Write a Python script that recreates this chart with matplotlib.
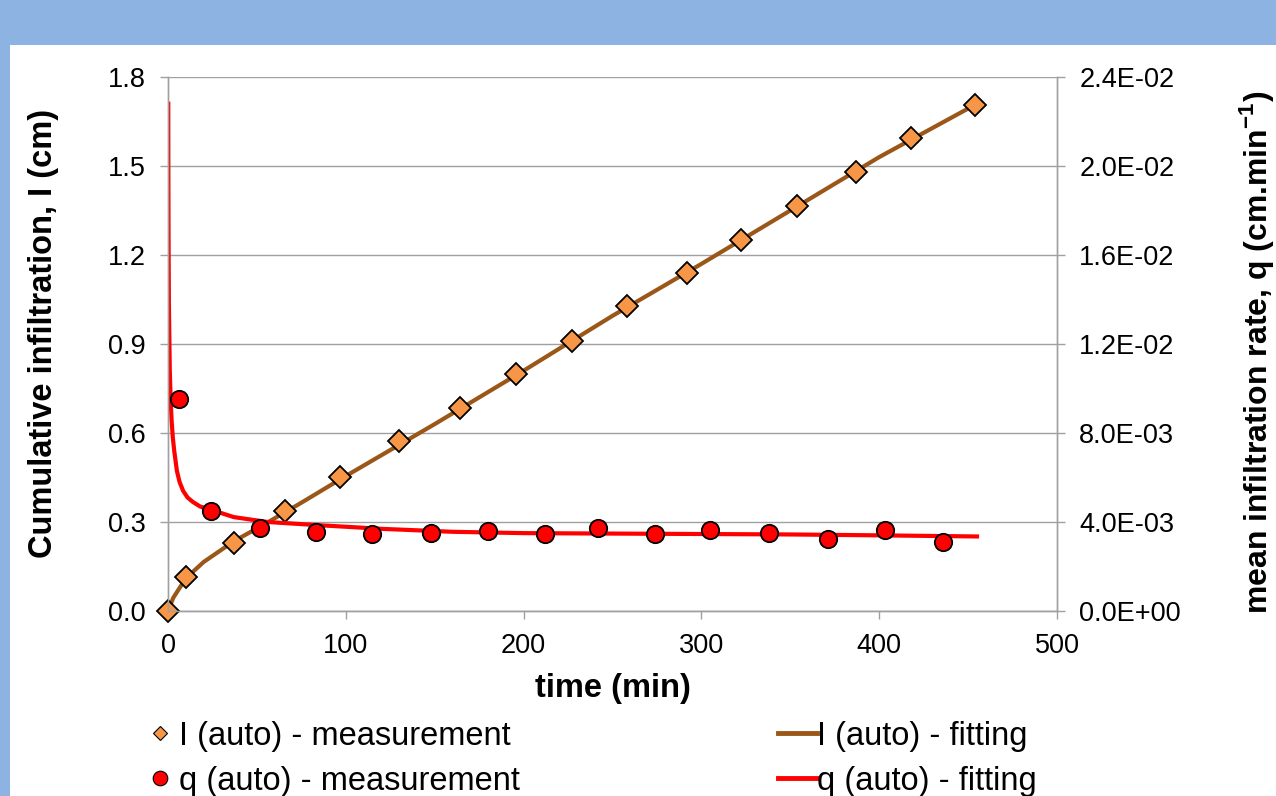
import matplotlib
matplotlib.use('Agg')
import matplotlib.pyplot as plt
from matplotlib.patches import Rectangle
from matplotlib.lines import Line2D
from matplotlib.ticker import FuncFormatter, MultipleLocator

plt.rcParams['font.family'] = ['Liberation Sans', 'DejaVu Sans']
plt.rcParams['mathtext.fontset'] = 'custom'
plt.rcParams['mathtext.rm'] = 'Liberation Sans'
plt.rcParams['mathtext.bf'] = 'Liberation Sans:bold'

# cumulative infiltration, measured (min, cm)
t_I = [0, 10, 37, 66, 97, 130, 164, 196, 227, 258, 292, 322, 354, 387, 418, 454]
I_meas = [0.0, 0.115, 0.229, 0.337, 0.452, 0.573, 0.684, 0.799, 0.91, 1.028,
          1.139, 1.25, 1.365, 1.48, 1.594, 1.705]

# mean infiltration rate, measured (min, cm/min)
t_q = [6, 24, 52, 83, 115, 148, 180, 212, 242, 274, 305, 338, 371, 403, 436]
q_meas = [0.00951, 0.00451, 0.00374, 0.00356, 0.00347, 0.00351, 0.0036, 0.00347,
          0.00375, 0.00345, 0.00363, 0.00351, 0.00324, 0.00363, 0.00309]

# fitted curves
t_Ifit = [0, 3, 10, 20, 37, 55, 75, 100, 150, 200, 250, 300, 350, 400, 455]
I_fit = [0.0, 0.045, 0.11, 0.165, 0.235, 0.295, 0.365, 0.455, 0.63, 0.81,
         0.995, 1.17, 1.35, 1.53, 1.71]

t_qfit = [0.15, 0.2, 0.3, 0.5, 1.0, 1.5, 2.0, 2.7, 3.5, 5, 6.5, 8.5, 11, 14, 18,
          24, 30, 37, 56, 84, 121, 160, 200, 250, 300, 350, 400, 455]
q_fit = [0.0228, 0.0200, 0.0170, 0.0138, 0.0108, 0.0095, 0.0086, 0.0078, 0.0072,
         0.0063, 0.0058, 0.0054, 0.0051, 0.0049, 0.0047, 0.00454, 0.0044, 0.00422,
         0.0040, 0.00386, 0.00369, 0.00356, 0.0035, 0.00348, 0.00346, 0.00344,
         0.0034, 0.00335]

brown = '#9A5718'
orange = '#F79646'
red = '#FF0000'
grey = '#A0A0A0'

fig = plt.figure(figsize=(12.76, 7.96), dpi=100, facecolor='#8DB3E2')
fig.patches.append(Rectangle((10 / 1276, 0), 1, 751 / 796, transform=fig.transFigure,
                             facecolor='white', edgecolor='none', zorder=-1))

ax = fig.add_axes([168 / 1276, 185 / 796, 889 / 1276, 534 / 796])
ax2 = ax.twinx()

ax.plot(t_Ifit, I_fit, color=brown, lw=3, zorder=2, clip_on=False)
ax.plot(t_I, I_meas, 'D', ms=11, mfc=orange, mec='black', mew=1.3, zorder=3, clip_on=False)
ax2.plot(t_qfit, q_fit, color=red, lw=3, zorder=2, solid_joinstyle='round')
ax2.plot(t_q, q_meas, 'o', ms=12.5, mfc=red, mec='black', mew=1.3, zorder=3)

ax.set_xlim(0, 500)
ax.set_ylim(0, 1.8)
ax2.set_ylim(0, 0.024)
ax.xaxis.set_major_locator(MultipleLocator(100))
ax.yaxis.set_major_locator(MultipleLocator(0.3))
ax.yaxis.set_major_formatter(FuncFormatter(lambda v, p: f'{v:.1f}'))
ax2.yaxis.set_major_locator(MultipleLocator(0.004))
ax2.yaxis.set_major_formatter(FuncFormatter(lambda v, p: f'{v:.1E}'))

ax.grid(axis='y', color=grey, lw=1)
ax.set_axisbelow(True)
for a in (ax, ax2):
    a.spines['top'].set_visible(False)
    for s in ('left', 'right', 'bottom'):
        a.spines[s].set_color(grey)
        a.spines[s].set_linewidth(1)
ax.tick_params(axis='both', direction='out', length=6, width=1, color=grey,
               labelsize=19.5, pad=10)
ax2.tick_params(axis='y', direction='out', length=6, width=1, color=grey,
                labelsize=19.5, pad=10)

ax.set_xlabel('time (min)', fontsize=23.5, fontweight='bold')
ax.xaxis.set_label_coords(0.5, -0.116)
ax.set_ylabel('Cumulative infiltration, I (cm)', fontsize=23.5, fontweight='bold')
ax.yaxis.set_label_coords(-0.123, 0.519)
ax2.set_ylabel(r'mean infiltration rate, q (cm.min$^{\mathbf{-1}}$)',
               fontsize=23, fontweight='bold')
ax2.yaxis.set_label_coords(1.2025, 0.485)

handles = [
    Line2D([], [], ls='none', marker='D', ms=7.5, mfc=orange, mec='black', mew=0.8),
    Line2D([], [], ls='none', marker='o', ms=10.5, mfc=red, mec='black', mew=0.8),
    Line2D([], [], color=brown, lw=3.5),
    Line2D([], [], color=red, lw=3.5),
]
labels = ['I (auto) - measurement', 'q (auto) - measurement',
          'I (auto) - fitting', 'q (auto) - fitting']
fig.legend(handles, labels, loc='upper left', bbox_to_anchor=(140 / 1276, 0.0945),
           ncol=2, frameon=False, fontsize=23.5, handlelength=1.2,
           handletextpad=0.0, columnspacing=7.9, labelspacing=0.43,
           borderpad=0, borderaxespad=0)

fig.savefig('out.png', dpi=100, facecolor=fig.get_facecolor())
